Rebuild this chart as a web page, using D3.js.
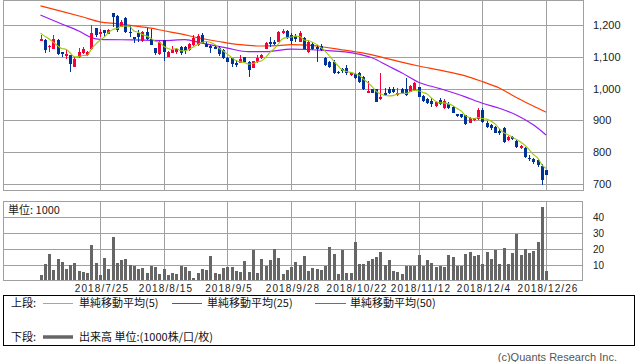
<!DOCTYPE html>
<html><head><meta charset="utf-8">
<script src="https://cdn.jsdelivr.net/npm/d3@7"></script>
<style>
html,body{margin:0;padding:0;background:#fff;}
svg{display:block;}
</style></head>
<body>
<svg id="chart" width="638" height="362"></svg>
<script>
// ---- data ----
const dates = [
"2018/7/4","2018/7/5","2018/7/6","2018/7/9","2018/7/10","2018/7/11","2018/7/12","2018/7/13","2018/7/17","2018/7/18",
"2018/7/19","2018/7/20","2018/7/23","2018/7/24","2018/7/25","2018/7/26","2018/7/27","2018/7/30","2018/7/31",
"2018/8/1","2018/8/2","2018/8/3","2018/8/6","2018/8/7","2018/8/8","2018/8/9","2018/8/10","2018/8/13","2018/8/14",
"2018/8/15","2018/8/16","2018/8/17","2018/8/20","2018/8/21","2018/8/22","2018/8/23","2018/8/24","2018/8/27","2018/8/28",
"2018/8/29","2018/8/30","2018/8/31",
"2018/9/3","2018/9/4","2018/9/5","2018/9/6","2018/9/7","2018/9/10","2018/9/11","2018/9/12","2018/9/13","2018/9/14",
"2018/9/18","2018/9/19","2018/9/20","2018/9/21","2018/9/25","2018/9/26","2018/9/27","2018/9/28",
"2018/10/1","2018/10/2","2018/10/3","2018/10/4","2018/10/5","2018/10/9","2018/10/10","2018/10/11","2018/10/12","2018/10/15",
"2018/10/16","2018/10/17","2018/10/18","2018/10/19","2018/10/22","2018/10/23","2018/10/24","2018/10/25","2018/10/26","2018/10/29",
"2018/10/30","2018/10/31",
"2018/11/1","2018/11/2","2018/11/5","2018/11/6","2018/11/7","2018/11/8","2018/11/9","2018/11/12","2018/11/13","2018/11/14",
"2018/11/15","2018/11/16","2018/11/19","2018/11/20","2018/11/21","2018/11/22","2018/11/26","2018/11/27","2018/11/28","2018/11/29",
"2018/11/30",
"2018/12/3","2018/12/4","2018/12/5","2018/12/6","2018/12/7","2018/12/10","2018/12/11","2018/12/12","2018/12/13","2018/12/14",
"2018/12/17","2018/12/18","2018/12/19","2018/12/20","2018/12/21","2018/12/25","2018/12/26"];

const openP = [
1151,1153,1130,1125,1153,1114,1104,1106,1069,1098,
1111,1106,1124,1191,1171,1184,1173,1237,1228,1195,
1221,1179,1161,1176,1150,1177,1155,1127,1109,1153,
1100,1113,1115,1132,1130,1121,1137,1137,1169,1139,
1134,1132,1127,1121,1097,1095,1081,1081,1099,1085,
1066,1083,1095,1125,1146,1146,1148,1174,1182,1169,
1165,1148,1158,1114,1139,1132,1135,1096,1084,1084,
1052,1063,1065,1043,1046,1049,1036,987,998,998,
966,987,998,999,980,998,999,990,995,1004,
977,966,962,945,964,938,951,941,920,919,
917,893,900,903,933,893,885,880,867,877,
838,849,835,812,814,783,778,775,758,744];

const highP = [
1170,1155,1137,1170,1156,1116,1121,1107,1099,1127,
1132,1118,1200,1192,1186,1185,1188,1238,1230,1216,
1226,1197,1162,1184,1180,1190,1186,1128,1153,1154,
1118,1134,1127,1134,1134,1144,1169,1171,1174,1150,
1136,1137,1135,1124,1099,1097,1090,1106,1100,1086,
1088,1106,1108,1146,1161,1153,1180,1186,1185,1175,
1172,1181,1162,1153,1146,1136,1139,1099,1087,1090,
1054,1065,1074,1052,1049,1052,1040,1025,1000,1000,
1048,1002,1004,1005,1001,1002,1032,1011,1021,1006,
979,969,969,962,969,967,958,944,921,921,
918,910,908,938,939,898,888,883,873,879,
851,852,838,822,816,790,781,778,762,745];

const lowP = [
1150,1113,1116,1123,1107,1098,1092,1053,1068,1097,
1108,1104,1122,1161,1163,1162,1171,1195,1179,1193,
1174,1163,1142,1148,1148,1153,1137,1106,1106,1088,
1099,1112,1109,1106,1110,1118,1135,1134,1143,1130,
1113,1123,1103,1094,1084,1069,1069,1079,1084,1037,
1065,1082,1093,1123,1132,1137,1146,1171,1157,1140,
1147,1146,1123,1112,1122,1085,1119,1072,1066,1047,
1047,1049,1043,1041,1031,1019,997,986,986,958,
965,977,984,987,978,984,977,988,993,973,
959,952,943,941,948,936,935,922,912,908,
886,891,898,901,893,877,870,859,855,828,
836,839,812,810,782,772,763,754,697,727];

const closeP = [
1157,1121,1135,1155,1109,1109,1110,1077,1094,1116,
1124,1116,1176,1169,1177,1174,1184,1226,1185,1210,
1179,1176,1155,1163,1178,1155,1137,1111,1148,1116,
1116,1124,1124,1113,1118,1140,1158,1165,1144,1132,
1127,1125,1109,1095,1085,1076,1074,1092,1085,1058,
1087,1097,1106,1142,1140,1140,1179,1182,1158,1150,
1157,1174,1125,1147,1125,1125,1121,1074,1068,1049,
1049,1056,1050,1049,1033,1021,999,993,987,959,
975,980,985,989,987,985,980,1008,1017,975,
961,954,950,959,952,962,938,924,914,910,
888,907,906,933,895,880,875,861,859,833,
849,840,817,820,784,778,768,760,713,728];

// volume in 1000 units
const volume = [
3.8,10.6,16.9,6.9,13.8,11.9,7.5,10,11.3,6.3,
5.6,5.2,22.5,11.3,3.8,14.4,7.5,27.5,11.3,13.1,
13.8,10,9.4,7.5,8.1,5,9.4,8.8,4.4,7.5,
3.8,5,4.4,9.4,8.8,6.3,1.9,5,7.5,6.9,
15.6,5,4.4,8.1,8.8,8.8,6.3,5.6,12.5,5.6,
19.4,5,13.8,9.4,13.1,20,14.4,4.4,6.9,8.8,
11.9,10,15.6,6.3,8.1,7.9,6.9,9.8,21.3,16.9,
4.4,19.8,5,5,24.4,10.6,10.6,12.5,13.8,15,
18.1,10,13.1,6.3,5.6,4.4,9.8,9.8,9.8,16.3,
9.8,13.1,11.3,8.8,9.4,8.8,16.3,15,9.8,9.4,
16.9,18.1,15.6,16.3,10.6,18.1,13.8,19.4,10.6,20.6,
10.6,17.5,29.4,16.3,20,17.5,18.8,24.4,46.3,6.3];

// moving averages
const ma5 = [
1174,1165,1156,1146,1135,1126,1124,1112,1100,1101,
1104,1105,1125,1140,1152,1162,1176,1186,1189,1196,
1197,1195,1181,1177,1170,1165,1158,1149,1146,1133,
1126,1123,1126,1119,1119,1124,1131,1139,1145,1148,
1145,1139,1127,1118,1108,1098,1088,1084,1082,1077,
1079,1084,1087,1098,1114,1125,1141,1157,1160,1162,
1165,1164,1153,1151,1146,1139,1129,1118,1103,1087,
1072,1059,1054,1051,1047,1042,1030,1019,1007,992,
983,979,977,978,983,985,985,990,995,993,
988,983,971,960,955,955,952,947,938,930,
915,909,905,909,906,904,898,889,874,862,
855,848,840,832,822,808,793,782,761,749];

const ma25Day = [0,5,9,12,14,22,29,34,38,44,49,53,59,63,67,74,78,82,85,89,94,100,104,108,112,116,119];
const ma25    = [1231,1203,1181,1160,1155,1153,1151,1154,1143,1127,1116,1116,1124,1123,1120,1111,1097,1070,1050,1020,1000,974,954,938,917,886,854];

const ma50Day = [0,5,10,14,18,22,26,29,33,37,42,47,52,56,59,63,67,71,75,80,85,89,94,100,104,108,112,116,119];
const ma50    = [1260,1243,1225,1210,1204,1197,1190,1182,1172,1160,1148,1138,1134,1135,1138,1137,1130,1122,1114,1100,1083,1071,1058,1040,1022,1002,972,945,926];

const priceTicks = [700,800,900,1000,1100,1200];
const volumeTicks = [10,20,30,40];
const dateTicks = ["2018/7/25","2018/8/15","2018/9/5","2018/9/28","2018/10/22","2018/11/12","2018/12/4","2018/12/26"];

// ---- drawing ----
const svg = d3.select("#chart");
const GRID = "#a0a0a0";
const UP = "#f5003c", DOWN = "#003399";
const C5 = "#99cc00", C25 = "#9b1cf5", C50 = "#ff3c00";
const LATIN = "'Liberation Sans', Arial, sans-serif";
const CJK = "'Noto Sans CJK JP', 'Noto Sans', sans-serif";

const n = dates.length;
const x = d3.scaleLinear().domain([-8.83, 127.7]).range([3, 583]);
const y = d3.scaleLinear().domain([681.1, 1278.6]).range([190, 0]);
const yv = d3.scaleLinear().domain([0, 50]).range([281.3, 201.3]);
const px = i => Math.round(x(i));
const tickIdx = dateTicks.map(d => dates.indexOf(d));
const idx = d3.range(n);

// price panel grid
const gP = svg.append("g");
gP.selectAll("line.h").data(priceTicks).join("line")
  .attr("x1", 3).attr("x2", 583)
  .attr("y1", d => Math.round(y(d)) + 0.5).attr("y2", d => Math.round(y(d)) + 0.5)
  .attr("stroke", GRID).attr("stroke-width", 1);
gP.selectAll("line.v").data(tickIdx).join("line")
  .attr("x1", d => px(d) + 0.5).attr("x2", d => px(d) + 0.5)
  .attr("y1", 0).attr("y2", 190)
  .attr("stroke", GRID).attr("stroke-width", 1);
gP.append("rect").attr("x", 3.5).attr("y", 0.5).attr("width", 580).attr("height", 190)
  .attr("fill", "none").attr("stroke", GRID);

// price labels
svg.append("g").selectAll("text").data(priceTicks).join("text")
  .attr("x", 593).attr("y", d => Math.round(y(d)) + 4)
  .attr("font-family", LATIN).attr("font-size", 11).attr("fill", "#222")
  .text(d => d3.format(",")(d));

// moving average lines (25, 50 under the candles)
const lineGen = d3.line().x(d => x(d[0])).y(d => y(d[1])).curve(d3.curveMonotoneX);
const ma50Pts = ma50Day.map((d, k) => [d, ma50[k]]);
const ma25Pts = ma25Day.map((d, k) => [d, ma25[k]]);
const ma5Pts = idx.map(i => [i, ma5[i]]);
svg.append("path").attr("d", lineGen(ma50Pts)).attr("fill", "none").attr("stroke", C50).attr("stroke-width", 1.2);
svg.append("path").attr("d", lineGen(ma25Pts)).attr("fill", "none").attr("stroke", C25).attr("stroke-width", 1.2);

// candles
const gC = svg.append("g").attr("shape-rendering", "crispEdges");
const cs = gC.selectAll("g").data(idx).join("g")
  .attr("fill", i => closeP[i] >= openP[i] ? UP : DOWN);
cs.append("rect")
  .attr("x", i => px(i)).attr("width", 1)
  .attr("y", i => Math.round(y(highP[i])))
  .attr("height", i => Math.max(1, Math.round(y(lowP[i])) - Math.round(y(highP[i]))));
cs.append("rect")
  .attr("x", i => px(i) - 1).attr("width", 3)
  .attr("y", i => Math.round(y(Math.max(openP[i], closeP[i]))))
  .attr("height", i => Math.max(1, Math.round(y(Math.min(openP[i], closeP[i]))) - Math.round(y(Math.max(openP[i], closeP[i])))));

// 5-day MA on top
svg.append("path").attr("d", lineGen(ma5Pts)).attr("fill", "none").attr("stroke", C5).attr("stroke-width", 1.1);

// volume panel
const gV = svg.append("g");
gV.selectAll("line.h").data(volumeTicks).join("line")
  .attr("x1", 3).attr("x2", 582)
  .attr("y1", d => Math.round(yv(d)) + 0.5).attr("y2", d => Math.round(yv(d)) + 0.5)
  .attr("stroke", GRID);
gV.selectAll("line.v").data(tickIdx).join("line")
  .attr("x1", d => px(d) + 0.5).attr("x2", d => px(d) + 0.5)
  .attr("y1", 201.5).attr("y2", 280)
  .attr("stroke", GRID);
gV.append("g").attr("shape-rendering", "crispEdges").selectAll("rect").data(idx).join("rect")
  .attr("x", i => px(i) - 1).attr("width", 3)
  .attr("y", i => Math.round(yv(volume[i])))
  .attr("height", i => 280 - Math.round(yv(volume[i])))
  .attr("fill", "#666");
gV.append("rect").attr("x", 3.5).attr("y", 201.5).attr("width", 579).attr("height", 79)
  .attr("fill", "none").attr("stroke", GRID);
gV.append("text").attr("x", 8).attr("y", 213.5)
  .attr("font-family", CJK).attr("font-size", 11).attr("fill", "#222")
  .text("単位: 1000");

svg.append("g").selectAll("text").data(volumeTicks).join("text")
  .attr("x", 593).attr("y", d => Math.round(yv(d)) + 4)
  .attr("font-family", LATIN).attr("font-size", 10).attr("fill", "#222")
  .text(d => d);

// date labels
svg.append("g").selectAll("text").data(dateTicks).join("text")
  .attr("x", d => px(dates.indexOf(d)) + 2).attr("y", 292)
  .attr("text-anchor", "middle")
  .attr("font-family", LATIN).attr("font-size", 10).attr("letter-spacing", 1.1).attr("fill", "#222")
  .text(d => d);

// legend
const gLg = svg.append("g");
gLg.append("rect").attr("x", 3.5).attr("y", 295.5).attr("width", 631).attr("height", 50)
  .attr("fill", "none").attr("stroke", "#000");
const legendText = (tx, ty, s) => gLg.append("text").attr("x", tx).attr("y", ty)
  .attr("font-family", CJK).attr("font-size", 11).attr("fill", "#111").text(s);
const legendLine = (x1, x2, ly, col, w) => gLg.append("line").attr("x1", x1).attr("x2", x2)
  .attr("y1", ly).attr("y2", ly).attr("stroke", col).attr("stroke-width", w);
legendText(11, 306.5, "上段:");
legendLine(43, 73, 303.5, C5, 1);
legendText(79, 306.5, "単純移動平均(5)");
legendLine(172, 202, 303.5, C25, 1);
legendText(207, 306.5, "単純移動平均(25)");
legendLine(315, 346, 303.5, C50, 1);
legendText(350, 306.5, "単純移動平均(50)");
legendText(11, 340.5, "下段:");
legendLine(43, 73, 337, "#666", 3.5);
legendText(79, 340.5, "出来高 単位:(1000株/口/枚)");

svg.append("text").attr("x", 617).attr("y", 361).attr("text-anchor", "end")
  .attr("font-family", LATIN).attr("font-size", 11).attr("fill", "#555")
  .text("(c)Quants Research Inc.");
</script>
</body></html>
